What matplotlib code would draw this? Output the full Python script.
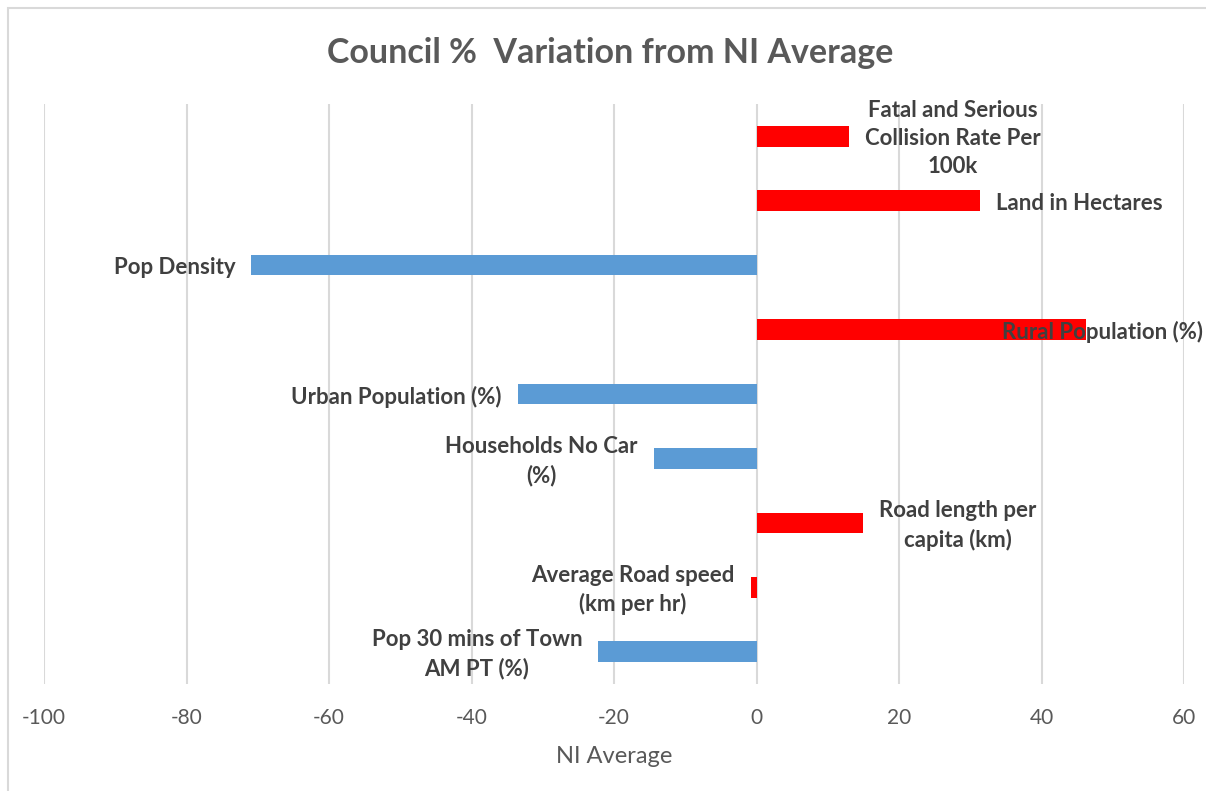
import matplotlib.pyplot as plt
from matplotlib.patches import Rectangle
from matplotlib.transforms import blended_transform_factory

# Data
categories = ['Fatal and Serious Collision Rate Per 100k', 'Land in Hectares', 'Pop Density',
              'Rural Population (%)', 'Urban Population (%)', 'Households No Car (%)',
              'Road length per capita (km)', 'Average Road speed (km per hr)',
              'Pop 30 mins of Town AM PT (%)']
labels = ['Fatal and Serious\nCollision Rate Per\n100k', 'Land in Hectares', 'Pop Density',
          'Rural Population (%)', 'Urban Population (%)', 'Households No Car\n(%)',
          'Road length per\ncapita (km)', 'Average Road speed\n(km per hr)',
          'Pop 30 mins of Town\nAM PT (%)']
values = [13.0, 31.3, -70.9, 46.3, -33.5, -14.4, 15.0, -0.8, -22.2]
xticks = [-100, -80, -60, -40, -20, 0, 20, 40, 60]
# bar colours as in the original sheet (red = worse than average)
bar_colors = ['#ff0000', '#ff0000', '#5b9bd5', '#ff0000', '#5b9bd5', '#5b9bd5',
              '#ff0000', '#ff0000', '#5b9bd5']

plt.rcParams['font.family'] = ['Lato', 'DejaVu Sans']
plt.rcParams['axes.unicode_minus'] = False

W, H = 1206, 791
fig = plt.figure(figsize=(W / 100, H / 100), dpi=100)
ax = fig.add_axes([44 / W, (H - 684) / H, (1184 - 44) / W, (684 - 104) / H])

# chart frame (Excel style)
fig.patches.append(Rectangle((8 / W, -0.1), 1.2, (H - 8) / H + 0.1, transform=fig.transFigure,
                             fill=False, edgecolor='#d9d9d9', linewidth=1.5))

ypos = list(range(len(categories)))
ax.barh(ypos, values, height=0.32, color=bar_colors, zorder=3)

ax.set_xlim(-100, 60)
ax.set_ylim(len(categories) - 0.5, -0.5)
ax.set_xticks(xticks)
ax.set_yticks([])
ax.grid(axis='x', color='#d9d9d9', linewidth=1.5, zorder=0)
for s in ax.spines.values():
    s.set_visible(False)
ax.tick_params(axis='x', length=0, pad=17, labelsize=15, labelcolor='#595959')

gap = 2.25
lab_kw = dict(va='center', multialignment='center', fontsize=16, fontweight='bold',
              color='#404040', linespacing=1.42, zorder=4)
for i, (v, lab) in enumerate(zip(values, labels)):
    y = i + 0.04
    if categories[i] == 'Rural Population (%)':
        # Excel pulls this label back inside the chart area
        tr = blended_transform_factory(fig.transFigure, ax.transData)
        ax.text(1203 / W, y, lab, transform=tr, ha='right', **lab_kw)
        continue
    x = v + gap if v > 0 else v - gap
    ax.text(x, y, lab, ha='left' if v > 0 else 'right', **lab_kw)

ax.set_xlabel('NI Average', fontsize=17, color='#595959', labelpad=13)
fig.text(610 / W, 1 - 53 / H, 'Council %  Variation from NI Average', ha='center', va='center',
         fontsize=24.5, fontweight='bold', color='#595959')

fig.savefig('out.png', dpi=100)
